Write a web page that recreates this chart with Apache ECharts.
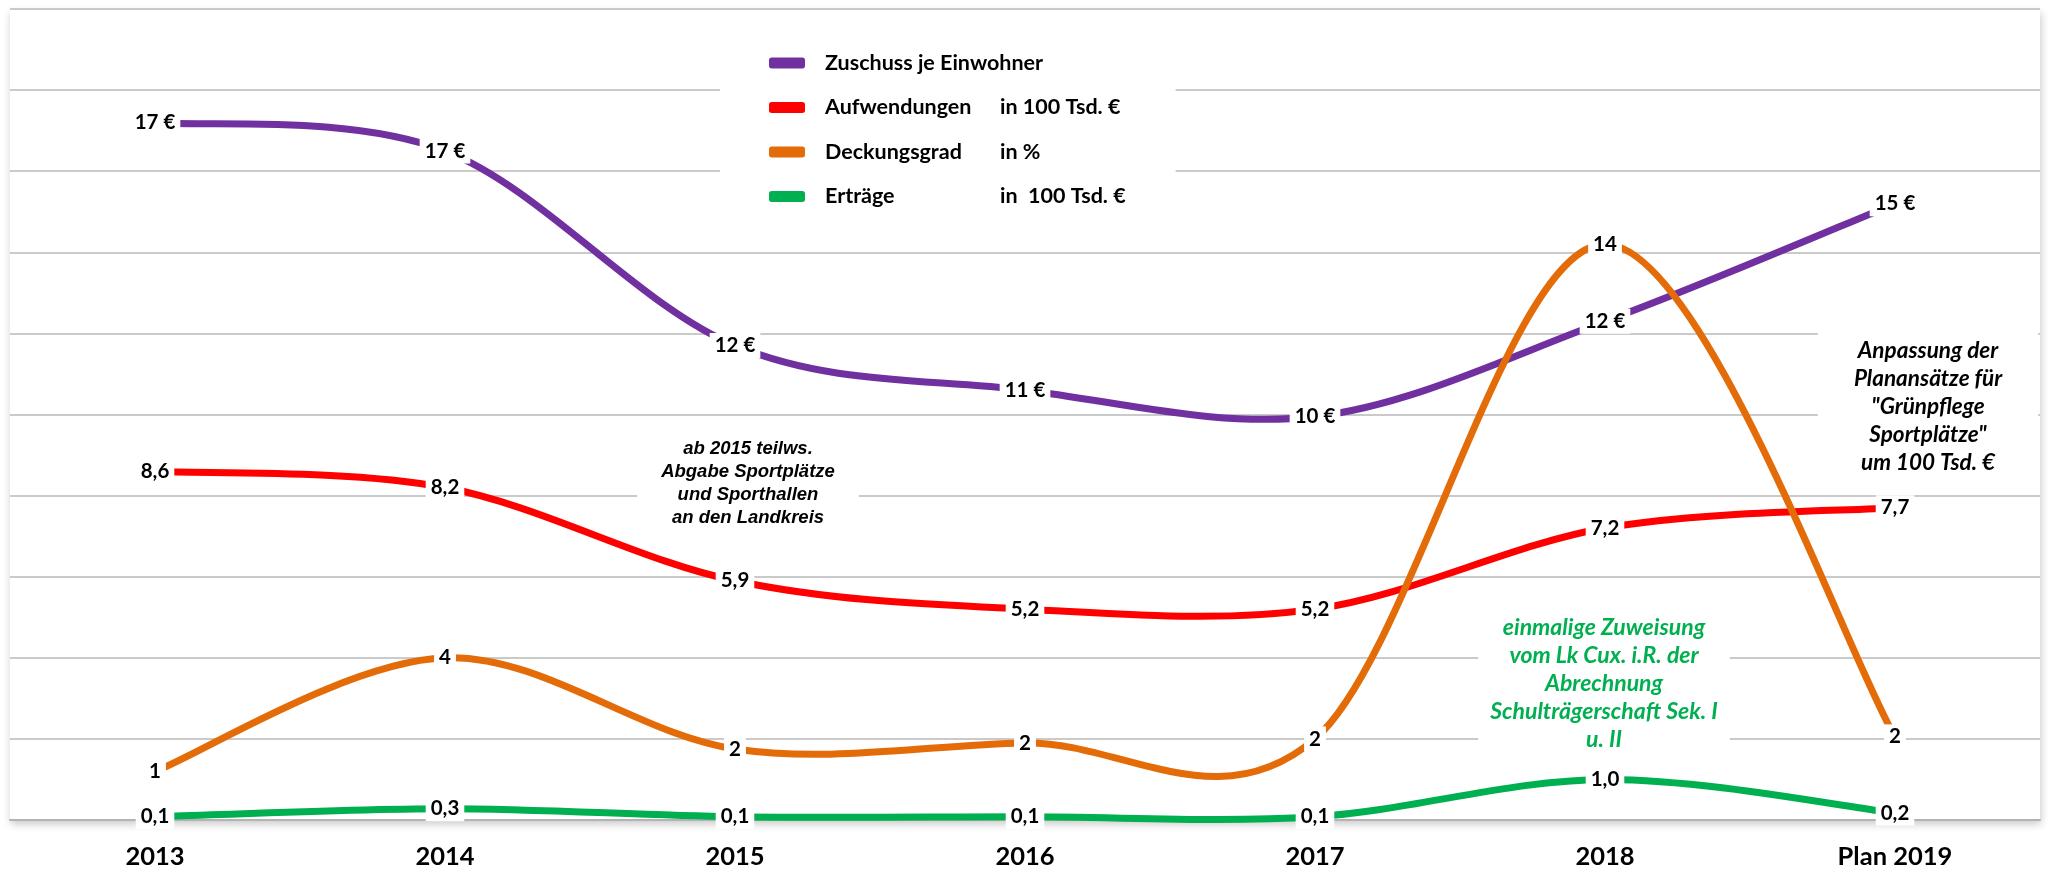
<!DOCTYPE html>
<html>
<head>
<meta charset="utf-8">
<script src="https://cdn.jsdelivr.net/npm/echarts@6/dist/echarts.min.js"></script>
<style>
html,body{margin:0;padding:0;background:#fff;}
#chart{width:2053px;height:873px;}
</style>
</head>
<body>
<div id="chart"></div>
<script>
const categories = ['2013', '2014', '2015', '2016', '2017', '2018', 'Plan 2019'];
const zuschuss = [17.2, 16.5, 11.7, 10.6, 9.95, 12.3, 15.2];
const aufwendungen = [8.6, 8.2, 5.9, 5.2, 5.2, 7.2, 7.7];
const deckungsgrad = [1.2, 4.0, 1.75, 1.9, 2.0, 14.2, 2.05];
const ertraege = [0.08, 0.28, 0.08, 0.08, 0.08, 1.0, 0.17];

const seriesNames = ['Zuschuss je Einwohner', 'Aufwendungen', 'Deckungsgrad', 'Erträge'];
const seriesUnits = ['', 'in 100 Tsd. €', 'in %', 'in  100 Tsd. €'];
const colors = ['#7030a0', '#ff0000', '#e36c09', '#00b050'];

const FONT = 'Lato';
const de1 = v => v.toFixed(1).replace('.', ',');

// Smoothed line (Excel-like Catmull-Rom spline) drawn through the axes via api.coord
function curveSeries(name, values, color) {
  return {
    name: name,
    type: 'custom',
    data: values.map((v, i) => [i, v]),
    encode: { x: 0, y: 1 },
    itemStyle: { color: color },
    z: 2,
    silent: true,
    renderItem: (params, api) => {
      if (params.dataIndex !== 0) return null;
      const p = values.map((v, i) => api.coord([i, v]));
      const n = p.length;
      let d = 'M' + p[0][0] + ' ' + p[0][1];
      for (let i = 0; i < n - 1; i++) {
        const p0 = p[Math.max(i - 1, 0)], p1 = p[i], p2 = p[i + 1], p3 = p[Math.min(i + 2, n - 1)];
        const c1 = [p1[0] + (p2[0] - p0[0]) / 6, p1[1] + (p2[1] - p0[1]) / 6];
        const c2 = [p2[0] - (p3[0] - p1[0]) / 6, p2[1] - (p3[1] - p1[1]) / 6];
        d += ' C' + c1[0] + ' ' + c1[1] + ' ' + c2[0] + ' ' + c2[1] + ' ' + p2[0] + ' ' + p2[1];
      }
      return {
        type: 'path',
        shape: { pathData: d },
        style: { stroke: color, lineWidth: 7, fill: 'none' }
      };
    },
    animation: false
  };
}

function labelSeries(id, values, color, fmt) {
  return {
    id: id,
    type: 'scatter',
    data: values.map((v, i) => [i, v]),
    symbol: 'circle',
    symbolSize: 2,
    itemStyle: { color: color, opacity: 1 },
    z: 5,
    silent: true,
    label: {
      show: true,
      position: 'inside',
      formatter: p => fmt(p.value[1]),
      color: '#000',
      opacity: 1,
      fontFamily: FONT,
      fontWeight: 'bold',
      fontSize: 20.5,
      backgroundColor: '#ffffff',
      padding: [2, 5]
    },
    emphasis: { disabled: true },
    animation: false
  };
}

const chart = echarts.init(document.getElementById('chart'));
chart.setOption({
  backgroundColor: '#fff',
  animation: false,
  grid: {
    left: 10, right: 13, top: 9, bottom: 53,
    show: true, backgroundColor: '#fff', borderWidth: 0,
    shadowBlur: 8, shadowColor: 'rgba(0,0,0,0.22)', shadowOffsetX: 1, shadowOffsetY: 4
  },
  legend: {
    orient: 'vertical',
    left: 720, top: 30,
    padding: [22, 50, 28, 49],
    backgroundColor: '#fff',
    itemGap: 22.5,
    itemWidth: 36, itemHeight: 11,
    icon: 'roundRect',
    data: seriesNames,
    formatter: name => {
      const i = seriesNames.indexOf(name);
      return seriesUnits[i] ? '{n|' + name + '}{u|' + seriesUnits[i] + '}' : '{f|' + name + '}';
    },
    textStyle: {
      color: '#000', fontFamily: FONT, fontWeight: 'bold', fontSize: 21.5, lineHeight: 22,
      padding: [0, 0, 0, 15],
      rich: {
        n: { width: 175, fontFamily: FONT, fontWeight: 'bold', fontSize: 21.5, color: '#000' },
        u: { fontFamily: FONT, fontWeight: 'bold', fontSize: 21.5, color: '#000' },
        f: { fontFamily: FONT, fontWeight: 'bold', fontSize: 21.5, color: '#000' }
      }
    }
  },
  xAxis: {
    type: 'category',
    data: categories,
    boundaryGap: true,
    axisTick: { show: false },
    axisLine: { lineStyle: { color: '#b3b3b3', width: 2 } },
    axisLabel: { color: '#000', fontFamily: FONT, fontWeight: 'bold', fontSize: 25.5, margin: 24 }
  },
  yAxis: {
    type: 'value',
    min: 0, max: 20, interval: 2,
    axisLabel: { show: false },
    axisLine: { show: false },
    axisTick: { show: false },
    splitLine: { lineStyle: { color: '#b8b8b8', width: 1.5 } }
  },
  graphic: {
    elements: [
      {
        type: 'text', x: 748, y: 425, z: 1,
        style: {
          text: 'ab 2015 teilws.\nAbgabe Sportplätze\nund Sporthallen\nan den Landkreis',
          font: 'italic bold 18.5px "Liberation Sans"',
          fill: '#000', align: 'center', lineHeight: 23,
          backgroundColor: '#fff', padding: [12, 24, 8, 24]
        }
      },
      {
        type: 'text', x: 1928, y: 329, z: 1,
        style: {
          text: 'Anpassung der\nPlanansätze für\n"Grünpflege\nSportplätze"\num 100 Tsd. €',
          font: 'italic bold 22.5px Lato',
          fill: '#000', align: 'center', lineHeight: 28,
          backgroundColor: '#fff', padding: [8, 36, 6, 36]
        }
      },
      {
        type: 'text', x: 1604, y: 602, z: 1,
        style: {
          text: 'einmalige Zuweisung\nvom Lk Cux. i.R. der\nAbrechnung\nSchulträgerschaft Sek. I\nu. II',
          font: 'italic bold 23px Lato',
          fill: '#00b050', align: 'center', lineHeight: 28,
          backgroundColor: '#fff', padding: [12, 12, 8, 12]
        }
      }
    ]
  },
  series: [
    curveSeries(seriesNames[0], zuschuss, colors[0]),
    curveSeries(seriesNames[1], aufwendungen, colors[1]),
    curveSeries(seriesNames[2], deckungsgrad, colors[2]),
    curveSeries(seriesNames[3], ertraege, colors[3]),
    labelSeries('lbl0', zuschuss, colors[0], v => Math.round(v) + ' €'),
    labelSeries('lbl1', aufwendungen, colors[1], de1),
    labelSeries('lbl2', deckungsgrad, colors[2], v => String(Math.round(v))),
    labelSeries('lbl3', ertraege, colors[3], de1)
  ]
});
</script>
</body>
</html>
